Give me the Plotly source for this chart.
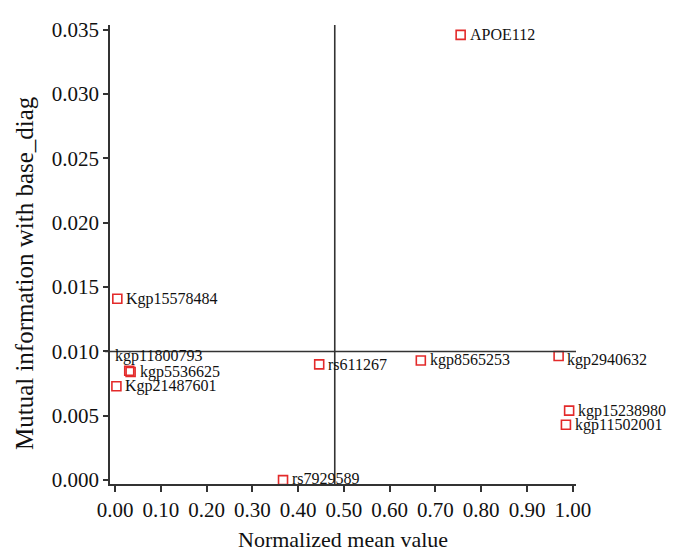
import plotly.graph_objects as go

# Data
snp_names = ["APOE112", "Kgp15578484", "kgp11800793", "kgp5536625", "Kgp21487601",
             "rs611267", "rs7929589", "kgp8565253", "kgp2940632", "kgp15238980", "kgp11502001"]
norm_mean = [0.755, 0.005, 0.031, 0.034, 0.003, 0.446, 0.367, 0.668, 0.969, 0.992, 0.985]
mutual_info = [0.0346, 0.0141, 0.0085, 0.0084, 0.0073, 0.0090, 0.0000, 0.0093, 0.00965, 0.0054, 0.0043]

x_ticks = [0.0, 0.1, 0.2, 0.3, 0.4, 0.5, 0.6, 0.7, 0.8, 0.9, 1.0]
x_tick_labels = ["0.00", "0.10", "0.20", "0.30", "0.40", "0.50", "0.60", "0.70", "0.80", "0.90", "1.00"]
y_ticks = [0.0, 0.005, 0.010, 0.015, 0.020, 0.025, 0.030, 0.035]
y_tick_labels = ["0.000", "0.005", "0.010", "0.015", "0.020", "0.025", "0.030", "0.035"]

x_split = 0.48
y_split = 0.010

FONT = "Liberation Serif"
AX = "#333333"

# label placement styles (pixel shifts)
label_style = {
    "kgp11800793": dict(xanchor="left", xshift=-16, yshift=15),
    "kgp2940632": dict(xanchor="left", xshift=6, yshift=-4),
    "rs7929589": dict(xanchor="left", xshift=7, yshift=2),
}

fig = go.Figure()
fig.add_trace(go.Scatter(
    x=norm_mean, y=mutual_info, mode="markers",
    marker=dict(symbol="square-open", size=9, color="#e32a2a", line=dict(width=1.6, color="#e32a2a")),
    showlegend=False, hoverinfo="text", text=snp_names,
))

for name, xv, yv in zip(snp_names, norm_mean, mutual_info):
    st = label_style.get(name, dict(xanchor="left", xshift=7, yshift=0))
    fig.add_annotation(x=xv, y=yv, xref="x", yref="y", text=name, showarrow=False,
                       font=dict(family=FONT, size=16, color="#111"),
                       xanchor=st["xanchor"], yanchor="middle",
                       xshift=st["xshift"], yshift=st["yshift"])

# quadrant lines
fig.add_shape(type="line", xref="x", yref="paper", x0=x_split, x1=x_split, y0=0, y1=1,
              line=dict(color=AX, width=1.6))
fig.add_shape(type="line", xref="paper", yref="y", x0=-0.011, x1=1, y0=y_split, y1=y_split,
              line=dict(color=AX, width=1.6))

# axis titles
fig.add_annotation(text="Mutual information with base_diag", xref="paper", yref="paper",
                   x=-0.183, y=0.459, xanchor="center", yanchor="middle", textangle=-90,
                   showarrow=False, font=dict(family=FONT, size=25, color="#111"))
fig.add_annotation(text="Normalized mean value", xref="paper", yref="paper",
                   x=0.5, y=-0.09, yanchor="top", showarrow=False,
                   font=dict(family=FONT, size=22, color="#111"))

fig.update_xaxes(range=[-0.011, 1.007], tickvals=x_ticks, ticktext=x_tick_labels,
                 showgrid=False, zeroline=False, showline=True, linecolor=AX, linewidth=1.6,
                 ticks="outside", ticklen=6, tickwidth=1.6, tickcolor=AX,
                 tickfont=dict(family=FONT, size=21, color="#111"))
fig.update_yaxes(range=[-0.0003, 0.03537], tickvals=y_ticks, ticktext=y_tick_labels,
                 showgrid=False, zeroline=False, showline=True, linecolor=AX, linewidth=1.6,
                 ticks="outside", ticklen=5, tickwidth=1.6, tickcolor=AX,
                 tickfont=dict(family=FONT, size=21, color="#111"))

fig.update_layout(width=671, height=539, margin=dict(l=102, r=103, t=10, b=63),
                  plot_bgcolor="white", paper_bgcolor="white")

fig.write_html("out.html")
